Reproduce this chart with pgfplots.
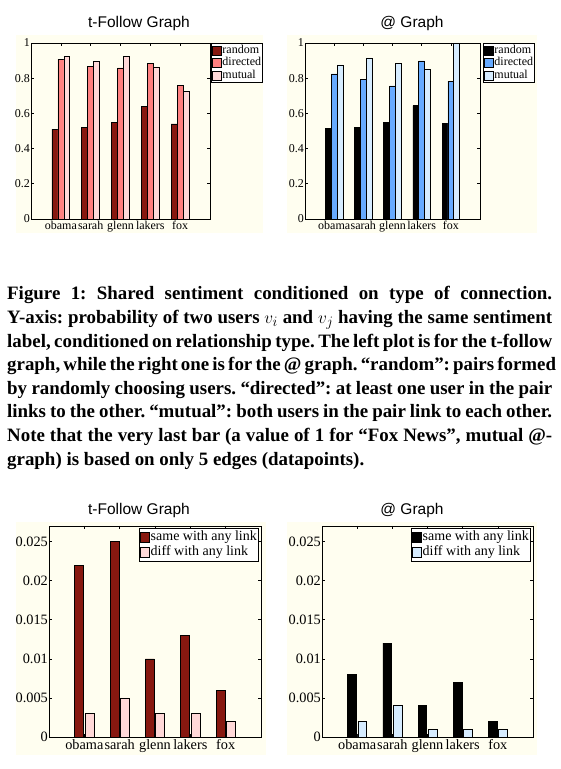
\documentclass[border=0pt]{standalone}
\usepackage{fontspec}
\setmainfont{Liberation Serif}
\newfontfamily\titlefont{Liberation Sans}
\usepackage{pgfplots}
\pgfplotsset{compat=1.18}

\definecolor{cream}{RGB}{255,254,240}
\definecolor{dred}{RGB}{135,24,16}
\definecolor{salmon}{RGB}{255,128,128}
\definecolor{lpink}{RGB}{255,216,216}
\definecolor{mblue}{RGB}{102,170,255}
\definecolor{lblue}{RGB}{214,236,255}

\pgfplotsset{
  sqlegendA/.style={legend image code/.code={\draw[##1] (0pt,-4.5pt) rectangle (9pt,4.5pt);}},
  sqlegendB/.style={legend image code/.code={\draw[##1] (0pt,-5pt) rectangle (9pt,5pt);}},
  bars/.style={ybar, draw=black, line width=0.6pt},
  base/.style={
    scale only axis, xmin=0, xmax=6, xtick={1,2,3,4,5},
    xticklabels={obama,sarah,glenn,lakers,fox},
    axis background/.style={fill=cream},
    tick align=inside, major tick length=3pt,
    axis line style={line width=0.8pt},
    every tick/.append style={line width=0.6pt, black},
    /pgf/number format/assume math mode=true,
    yticklabel style={inner sep=1pt},
    xticklabel style={inner sep=2pt},
    legend cell align=left,
  },
  topax/.style={base, ymin=0, ymax=1, ytick={0,0.2,0.4,0.6,0.8,1},
    height=176pt,
    tick label style={font=\fontsize{12}{12}\selectfont},
    legend style={at={(1,1)}, anchor=north west, xshift=1pt,
      font=\fontsize{12}{12}\selectfont, inner sep=1pt, line width=0.8pt,
      nodes={inner sep=0.5pt, text height=8.5pt, text depth=3pt},
      row sep=0pt, /tikz/every even column/.style={column sep=0pt}}},
  botax/.style={base, ymin=0, ymax=0.027, ytick={0,0.005,0.01,0.015,0.02,0.025},
    scaled y ticks=false,
    yticklabel style={/pgf/number format/fixed, /pgf/number format/precision=3},
    width=211pt, height=211pt,
    tick label style={font=\fontsize{14.3}{14}\selectfont},
    legend style={at={(1,1)}, anchor=north east, xshift=-2pt, yshift=-2pt,
      font=\fontsize{14}{14}\selectfont, inner sep=1pt, line width=0.8pt,
      nodes={inner sep=0.75pt, text height=10pt, text depth=4pt},
      row sep=0pt, /tikz/every even column/.style={column sep=0pt}}},
}

\begin{document}
\begin{tikzpicture}
\path[use as bounding box] (0,0) rectangle (561pt,769pt);
% figure backgrounds
\fill[cream] (16pt,734pt) rectangle (263pt,536pt);
\fill[cream] (287pt,734pt) rectangle (537pt,536pt);
\fill[cream] (16pt,247pt) rectangle (266pt,14pt);
\fill[cream] (287pt,247pt) rectangle (537pt,14pt);

% titles
\node[anchor=base, font=\titlefont\fontsize{15.5}{16}\selectfont] at (139pt,741pt) {t-Follow Graph};
\node[anchor=base, font=\titlefont\fontsize{15.5}{16}\selectfont] at (412pt,741pt) {@ Graph};
\node[anchor=base, font=\titlefont\fontsize{15.5}{16}\selectfont] at (139pt,254pt) {t-Follow Graph};
\node[anchor=base, font=\titlefont\fontsize{15.5}{16}\selectfont] at (412pt,254pt) {@ Graph};

% top-left
\begin{axis}[topax, width=179pt, at={(31pt,550pt)}, anchor=south west]
\addplot[bars, fill=dred, bar width=0.2, bar shift=-0.2, sqlegendA] coordinates {(1,0.511) (2,0.519) (3,0.547) (4,0.642) (5,0.540)};
\addplot[bars, fill=salmon, bar width=0.2, bar shift=0, sqlegendA] coordinates {(1,0.909) (2,0.866) (3,0.858) (4,0.886) (5,0.761)};
\addplot[bars, fill=lpink, bar width=0.2, bar shift=0.2, sqlegendA] coordinates {(1,0.926) (2,0.894) (3,0.926) (4,0.864) (5,0.727)};
\legend{random,directed,mutual}
\end{axis}

% top-right
\begin{axis}[topax, width=175pt, at={(305pt,550pt)}, anchor=south west, legend style={xshift=2pt}]
\addplot[bars, fill=black, bar width=0.2, bar shift=-0.2, sqlegendA] coordinates {(1,0.515) (2,0.521) (3,0.549) (4,0.644) (5,0.542)};
\addplot[bars, fill=mblue, bar width=0.2, bar shift=0, sqlegendA] coordinates {(1,0.824) (2,0.795) (3,0.756) (4,0.898) (5,0.784)};
\addplot[bars, fill=lblue, bar width=0.2, bar shift=0.2, sqlegendA] coordinates {(1,0.875) (2,0.915) (3,0.883) (4,0.852) (5,1.0)};
\legend{random,directed,mutual}
\end{axis}

% bottom-left
\begin{axis}[botax, width=212pt, at={(49pt,32pt)}, anchor=south west]
\addplot[bars, fill=dred, bar width=0.25, bar shift=-0.145, sqlegendB] coordinates {(1,0.022) (2,0.025) (3,0.010) (4,0.013) (5,0.006)};
\addplot[bars, fill=lpink, bar width=0.25, bar shift=0.145, sqlegendB] coordinates {(1,0.003) (2,0.005) (3,0.003) (4,0.003) (5,0.002)};
\legend{same with any link,diff with any link}
\end{axis}

% bottom-right
\begin{axis}[botax, width=211pt, at={(322pt,32pt)}, anchor=south west]
\addplot[bars, fill=black, bar width=0.25, bar shift=-0.145, sqlegendB] coordinates {(1,0.008) (2,0.012) (3,0.004) (4,0.007) (5,0.002)};
\addplot[bars, fill=lblue, bar width=0.25, bar shift=0.145, sqlegendB] coordinates {(1,0.002) (2,0.004) (3,0.001) (4,0.001) (5,0.001)};
\legend{same with any link,diff with any link}
\end{axis}

% caption
\node[anchor=north west, inner sep=0pt, align=left, font=\bfseries\fontsize{18.9}{23.6}\selectfont\frenchspacing] at (7pt,482.6pt) {%
\makebox[545pt][s]{Figure 1: Shared sentiment conditioned on type of connection.}\\
\makebox[545pt][s]{Y-axis: probability of two users $v_i$ and $v_j$ having the same sentiment}\\
\makebox[545pt][s]{label, conditioned on relationship type. The left plot is for the t-follow}\\
\makebox[545pt][s]{graph, while the right one is for the @ graph. “random”: pairs formed}\\
\makebox[545pt][s]{by randomly choosing users. “directed”: at least one user in the pair}\\
\makebox[545pt][s]{links to the other. “mutual”: both users in the pair link to each other.}\\
\makebox[545pt][s]{Note that the very last bar (a value of 1 for “Fox News”, mutual @-}\\
graph) is based on only 5 edges (datapoints).};
\end{tikzpicture}
\end{document}
